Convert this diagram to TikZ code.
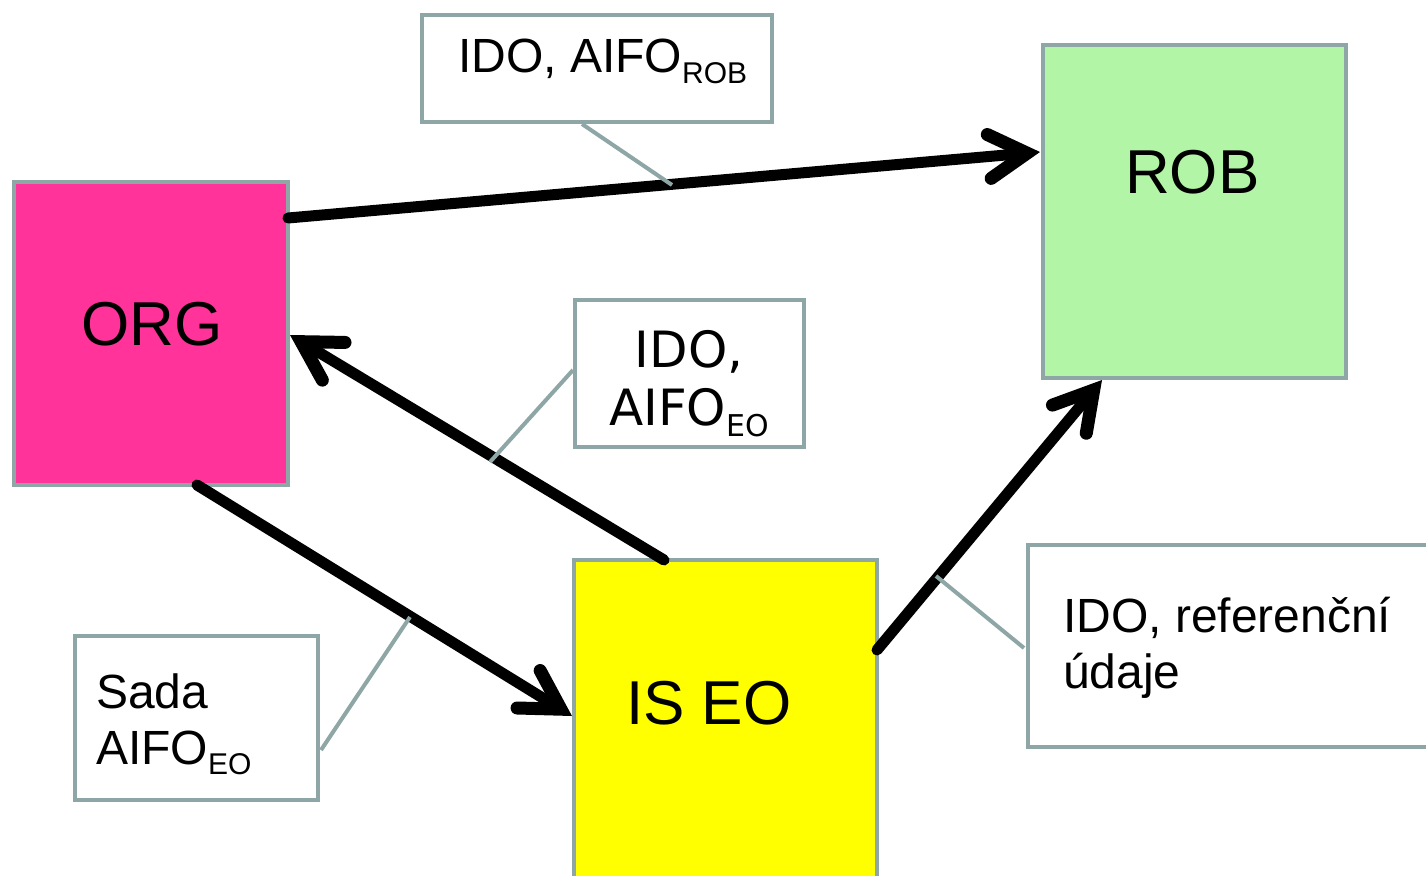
\documentclass[tikz,border=0pt]{standalone}
\usepackage{fontspec}
\setmainfont{Liberation Sans}
\newfontfamily\verdfont{DejaVu Sans}
\usetikzlibrary{arrows.meta,calc}
\definecolor{bordergray}{RGB}{143,166,166}
\definecolor{orgpink}{RGB}{255,51,153}
\definecolor{robgreen}{RGB}{179,245,166}
\definecolor{iseoyellow}{RGB}{255,255,0}
\newcommand{\lowsub}[1]{\raisebox{-0.22em}{\fontsize{30}{30}\selectfont #1}}
\tikzset{
  bigbox/.style={draw=bordergray, line width=4pt, rectangle, inner sep=0pt},
  callbox/.style={draw=bordergray, line width=3.5pt, fill=white, rectangle, inner sep=0pt},
  bigtext/.style={font=\fontsize{62}{62}\selectfont, inner sep=0pt, anchor=base west},
  calltext/.style={font=\fontsize{48}{56}\selectfont, inner sep=0pt, anchor=base west, align=left},
  flow/.style={line width=11pt, line cap=round, -{Straight Barb[length=38pt 0 0, width=44pt 0 0, line width=13pt, line cap=round, line join=miter]}},
  pointer/.style={draw=bordergray, line width=4pt}
}
\begin{document}
\begin{tikzpicture}[x=1pt,y=-1pt]
\useasboundingbox (0,0) rectangle (1426,875);
\clip (0,0) rectangle (1426,875);
\fill[white] (0,0) rectangle (1426,875);

% main boxes
\node[bigbox, fill=orgpink, minimum width=274pt, minimum height=303pt] (org) at (151,333.5) {};
\node[bigbox, fill=robgreen, minimum width=303pt, minimum height=333pt] (rob) at (1194.5,211.5) {};
\node[bigbox, fill=iseoyellow, minimum width=303pt, minimum height=360pt] (iseo) at (725.5,740) {};
\node[bigtext] (orgt) at (81,345) {ORG};
\node[bigtext] (robt) at (1125,193) {ROB};
\node[bigtext] (iseot) at (626,724) {IS EO};

% callout boxes
\node[callbox, minimum width=350pt, minimum height=107pt] (c1) at (597,68.5) {};
\node[callbox, minimum width=229pt, minimum height=147pt] (c2) at (689.5,373.5) {};
\node[callbox, minimum width=243pt, minimum height=164pt] (c3) at (196.5,718) {};
\node[callbox, minimum width=420pt, minimum height=202pt] (c4) at (1238,646) {};

\node[calltext] (c1t) at (458,73) {IDO, AIFO\lowsub{ROB}};
\node[font=\verdfont\fontsize{50}{58}\selectfont, inner sep=0pt, align=center, anchor=north] (c2t) at (689,330) {IDO,\\AIFO\lowsub{EO}};
\node[calltext] (c3t) at (96,764) {Sada\\AIFO\lowsub{EO}};
\node[calltext] (c4t) at (1063,688) {IDO, referenční\\údaje};

% arrow end points
\coordinate (a1s) at (288,218);
\coordinate (a1e) at (1040,152);
\coordinate (a2s) at (664,560);
\coordinate (a2e) at (290,335);
\coordinate (a3s) at (197,485);
\coordinate (a3e) at (572,716);
\coordinate (a4s) at (877,650);
\coordinate (a4e) at (1102,380);

\draw[flow] (a1s) -- (a1e);
\draw[flow] (a2s) -- (a2e);
\draw[flow] (a3s) -- (a3e);
\draw[flow] (a4s) -- (a4e);

% pointers from callouts
\coordinate (p1a) at (582,124);
\coordinate (p1b) at (672,185);
\coordinate (p2a) at (573,370);
\coordinate (p2b) at (490,462);
\coordinate (p3a) at (321,750);
\coordinate (p3b) at (410,617);
\coordinate (p4a) at (1024,648);
\coordinate (p4b) at (936,576);
\draw[pointer] (p1a) -- (p1b);
\draw[pointer] (p2a) -- (p2b);
\draw[pointer] (p3a) -- (p3b);
\draw[pointer] (p4a) -- (p4b);
\end{tikzpicture}
\end{document}
